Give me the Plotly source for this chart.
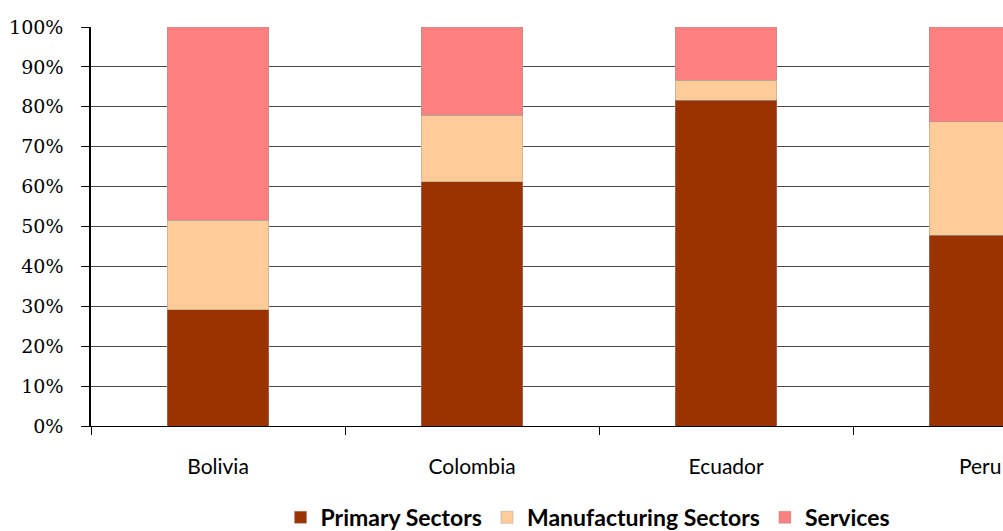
import plotly.graph_objects as go

countries = ["Bolivia", "Colombia", "Ecuador", "Peru"]
primary = [0.291, 0.612, 0.817, 0.478]
manufacturing = [0.225, 0.167, 0.050, 0.285]
services = [0.484, 0.221, 0.133, 0.237]

series = [
    ("Primary Sectors", primary, "#993300"),
    ("Manufacturing Sectors", manufacturing, "#FFCC99"),
    ("Services", services, "#FF8080"),
]

fig = go.Figure()
for name, vals, color in series:
    fig.add_trace(go.Bar(
        x=countries, y=vals, name=name,
        marker=dict(color=color, line=dict(color="rgba(150,150,150,0.45)", width=1)),
        width=0.4,
    ))

fig.update_layout(
    barmode="stack",
    width=1003, height=531,
    margin=dict(l=91, r=0, t=27, b=105, autoexpand=False),
    plot_bgcolor="white", paper_bgcolor="white",
    showlegend=True,
    legend=dict(
        orientation="h", x=0.545, xanchor="center", y=-0.175, yanchor="top",
        font=dict(family="Lato", size=23, color="black", weight="bold"),
        itemwidth=30, traceorder="normal",
    ),
    xaxis=dict(
        type="category", range=[-0.5, 3.09],
        tickson="boundaries", ticks="outside", ticklen=8, tickcolor="black",
        ticklabelstandoff=22,
        showline=True, linecolor="black", linewidth=1,
        showgrid=False,
        tickfont=dict(family="Lato", size=21, color="black"),
    ),
    yaxis=dict(
        range=[0, 1], dtick=0.1, tickformat=".0%",
        ticks="outside", ticklen=8, tickcolor="black",
        ticklabelstandoff=14,
        showline=True, linecolor="black", linewidth=1.5,
        showgrid=True, gridcolor="#4D4D4D", gridwidth=1,
        zeroline=False,
        tickfont=dict(family="DejaVu Serif", size=19, color="black"),
    ),
)

fig.write_html("out.html")
